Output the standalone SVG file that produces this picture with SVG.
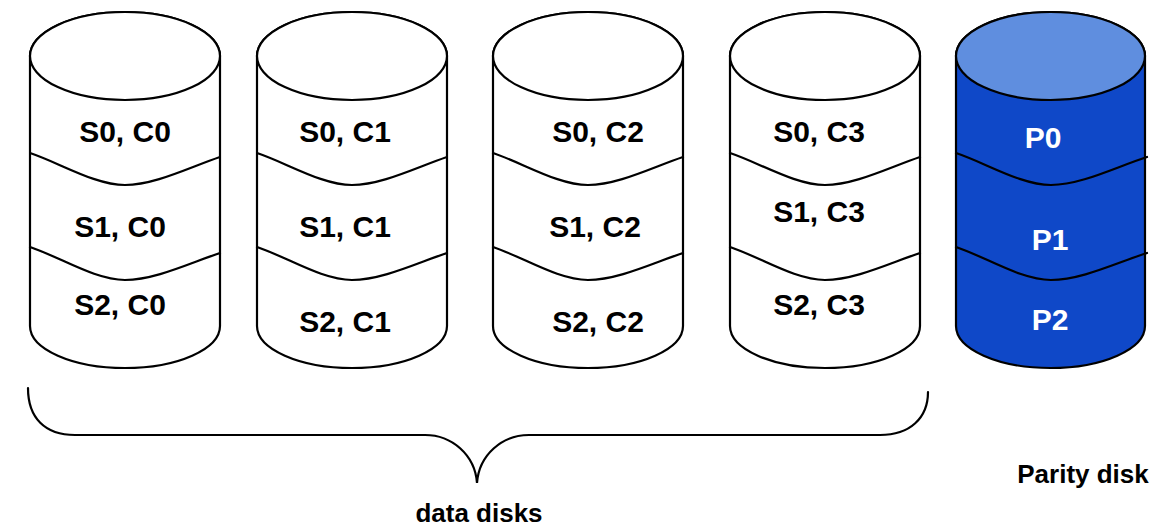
<svg xmlns="http://www.w3.org/2000/svg" width="1165" height="530" viewBox="0 0 1165 530">
<style>
.ln{fill:none;stroke:#000;stroke-width:2.2;stroke-linecap:round}
.body{fill:#fff;stroke:#000;stroke-width:2.2}
.pbody{fill:#0f48c8;stroke:#000;stroke-width:2.2}
.ptop{fill:#5f8edf;stroke:#000;stroke-width:2.2}
.t{font-family:"Liberation Sans",Arial,sans-serif;font-weight:bold;font-size:30px;fill:#000;text-anchor:middle}
.pt{font-family:"Liberation Sans",Arial,sans-serif;font-weight:bold;font-size:30px;fill:#fff;text-anchor:middle}
.lbl{font-family:"Liberation Sans",Arial,sans-serif;font-weight:bold;font-size:26px;fill:#000;text-anchor:middle}
</style>
<rect width="1165" height="530" fill="#fff"/>
<g id="disk0">
<path class="body" d="M30,56 L30,326 A95,42 0 0 0 220,326 L220,56 A95,44 0 0 0 30,56 Z"/>
<ellipse class="body" cx="125" cy="56" rx="95" ry="44"/>
<path class="ln" d="M30,153 C60,163 95,185 125,185 C155,185 190,167 220,157"/>
<path class="ln" d="M30,247 C60,257 95,280 125,280 C155,280 190,263 220,253"/>
<text class="t" x="125" y="142">S0, C0</text>
<text class="t" x="120" y="237">S1, C0</text>
<text class="t" x="120" y="315">S2, C0</text>
</g>
<g id="disk1">
<path class="body" d="M257,56 L257,326 A95,42 0 0 0 447,326 L447,56 A95,44 0 0 0 257,56 Z"/>
<ellipse class="body" cx="352" cy="56" rx="95" ry="44"/>
<path class="ln" d="M257,153 C287,163 322,185 352,185 C382,185 417,167 447,157"/>
<path class="ln" d="M257,247 C287,257 322,280 352,280 C382,280 417,263 447,253"/>
<text class="t" x="345" y="142">S0, C1</text>
<text class="t" x="345" y="237">S1, C1</text>
<text class="t" x="345" y="332">S2, C1</text>
</g>
<g id="disk2">
<path class="body" d="M493,56 L493,326 A95,42 0 0 0 683,326 L683,56 A95,44 0 0 0 493,56 Z"/>
<ellipse class="body" cx="588" cy="56" rx="95" ry="44"/>
<path class="ln" d="M493,153 C523,163 558,185 588,185 C618,185 653,167 683,157"/>
<path class="ln" d="M493,247 C523,257 558,280 588,280 C618,280 653,263 683,253"/>
<text class="t" x="598" y="142">S0, C2</text>
<text class="t" x="595" y="237">S1, C2</text>
<text class="t" x="598" y="332">S2, C2</text>
</g>
<g id="disk3">
<path class="body" d="M730,56 L730,326 A95,42 0 0 0 920,326 L920,56 A95,44 0 0 0 730,56 Z"/>
<ellipse class="body" cx="825" cy="56" rx="95" ry="44"/>
<path class="ln" d="M730,153 C760,163 795,185 825,185 C855,185 890,167 920,157"/>
<path class="ln" d="M730,247 C760,257 795,280 825,280 C855,280 890,263 920,253"/>
<text class="t" x="819" y="142">S0, C3</text>
<text class="t" x="819" y="222">S1, C3</text>
<text class="t" x="819" y="315">S2, C3</text>
</g>
<g id="parity">
<path class="pbody" d="M956,56 L956,326 A94.5,42 0 0 0 1145,326 L1145,56 A94.5,44 0 0 0 956,56 Z"/>
<ellipse class="ptop" cx="1050.5" cy="56" rx="94.5" ry="44"/>
<path class="ln" d="M956,153 C986,163 1021,185 1051,185 C1081,185 1116,167 1147,157"/>
<path class="ln" d="M956,247 C986,257 1021,280 1051,280 C1081,280 1116,263 1147,253"/>
<text class="pt" x="1043" y="148">P0</text>
<text class="pt" x="1050" y="250">P1</text>
<text class="pt" x="1050" y="330">P2</text>
</g>
<g id="connectors">
<path class="ln" d="M28,388 C28,418 45,435 75,435 L425,435 C452,435 475,455 477,483 C479,455 502,435 529,435 L880,435 C910,435 928,418 928,392"/>
</g>
<text class="lbl" x="479" y="522">data disks</text>
<text class="lbl" x="1083" y="483">Parity disk</text>
</svg>
